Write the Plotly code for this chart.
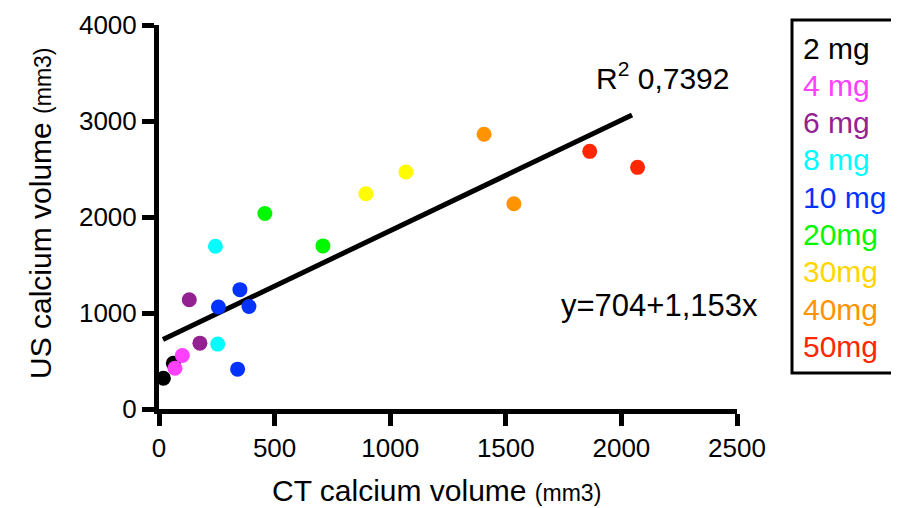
import plotly.graph_objects as go

# ---- data ----
groups = ["2 mg", "4 mg", "6 mg", "8 mg", "10 mg", "20mg", "30mg", "40mg", "50mg"]
colors = ["#000000", "#FF40FF", "#942192", "#00FDFF", "#0433FF", "#00F900", "#FFFB00", "#FF9300", "#FF2600"]
legend_colors = ["#000000", "#FF40FF", "#942192", "#00FDFF", "#0433FF", "#00F900", "#FFD600", "#FF9300", "#FF2600"]

ct_2mg = [19, 62]
us_2mg = [321, 477]
ct_4mg = [101, 69]
us_4mg = [557, 425]
ct_6mg = [131, 177]
us_6mg = [1138, 686]
ct_8mg = [244, 254]
us_8mg = [1695, 676]
ct_10mg = [350, 257, 389, 340]
us_10mg = [1243, 1062, 1068, 415]
ct_20mg = [458, 709]
us_20mg = [2037, 1699]
ct_30mg = [895, 1068]
us_30mg = [2242, 2468]
ct_40mg = [1406, 1535]
us_40mg = [2862, 2138]
ct_50mg = [1863, 2070]
us_50mg = [2684, 2517]

ct_values = [ct_2mg, ct_4mg, ct_6mg, ct_8mg, ct_10mg, ct_20mg, ct_30mg, ct_40mg, ct_50mg]
us_values = [us_2mg, us_4mg, us_6mg, us_8mg, us_10mg, us_20mg, us_30mg, us_40mg, us_50mg]

intercept = 704
slope = 1.153
fit_x = [17, 2046]
r2_text = "R<sup>2</sup> 0,7392"
eq_text = "y=704+1,153x"

x_ticks = [0, 500, 1000, 1500, 2000, 2500]
y_ticks = [0, 1000, 2000, 3000, 4000]

FONT = "Liberation Sans, Arial, sans-serif"

# page body has an 8px margin; plot area target (window px): x 159..737, y 26..409
OFF = 8
PL, PR, PT, PB = 159, 737, 25, 409
PW, PH = PR - PL, PB - PT


def px(xw):
    return (xw - PL) / PW


def py(yw):
    return (PB - yw) / PH


fig = go.Figure()

# regression line
fig.add_trace(go.Scatter(
    x=fit_x, y=[intercept + slope * v for v in fit_x],
    mode="lines", line=dict(color="black", width=5),
    showlegend=False, hoverinfo="skip", cliponaxis=False))

for name, col, xs, ys in zip(groups, colors, ct_values, us_values):
    fig.add_trace(go.Scatter(
        x=xs, y=ys, mode="markers", name=name,
        marker=dict(color=col, size=15, line=dict(width=0)),
        showlegend=False, cliponaxis=False))

axis_common = dict(
    showline=True, linecolor="black", linewidth=5,
    ticks="outside", ticklen=12, tickwidth=5, tickcolor="black",
    showgrid=False, zeroline=False, automargin=False,
    tickfont=dict(family=FONT, size=26, color="black"),
)

fig.update_xaxes(range=[0, 2500], tickvals=x_ticks, **axis_common)
fig.update_yaxes(range=[0, 4000], tickvals=y_ticks, **axis_common)

annotations = [
    dict(text="CT calcium volume <span style='font-size:23px'>(mm3)</span>",
         xref="paper", yref="paper", x=px(436), y=py(490),
         xanchor="center", yanchor="middle", showarrow=False,
         font=dict(family=FONT, size=30, color="black")),
    dict(text="US calcium volume <span style='font-size:23px'>(mm3)</span>",
         xref="paper", yref="paper", x=px(40), y=py(213), textangle=-90,
         xanchor="center", yanchor="middle", showarrow=False,
         font=dict(family=FONT, size=30, color="black")),
    dict(text=r2_text, xref="paper", yref="paper",
         x=px(594), y=py(76),
         xanchor="left", yanchor="middle", showarrow=False,
         font=dict(family=FONT, size=30, color="black")),
    dict(text=eq_text, xref="paper", yref="paper",
         x=px(559), y=py(305),
         xanchor="left", yanchor="middle", showarrow=False,
         font=dict(family=FONT, size=31, color="black")),
]

# legend drawn as coloured text in a box
for i, (name, col) in enumerate(zip(groups, legend_colors)):
    ypix = 48 + i * 37.3
    annotations.append(dict(
        text=name, xref="paper", yref="paper",
        x=px(801), y=py(ypix),
        xanchor="left", yanchor="middle", showarrow=False,
        font=dict(family=FONT, size=30, color=col)))

fig.add_shape(type="rect", xref="paper", yref="paper",
              x0=px(792), x1=px(897),
              y0=py(373), y1=py(20),
              line=dict(color="black", width=3))

fig.update_layout(
    width=899, height=508,
    margin=dict(l=PL - OFF, r=899 - (PR - OFF), t=PT - OFF, b=508 - (PB - OFF)),
    paper_bgcolor="white", plot_bgcolor="white",
    annotations=annotations,
    font=dict(family=FONT, color="black"),
)

fig.write_html("out.html")
